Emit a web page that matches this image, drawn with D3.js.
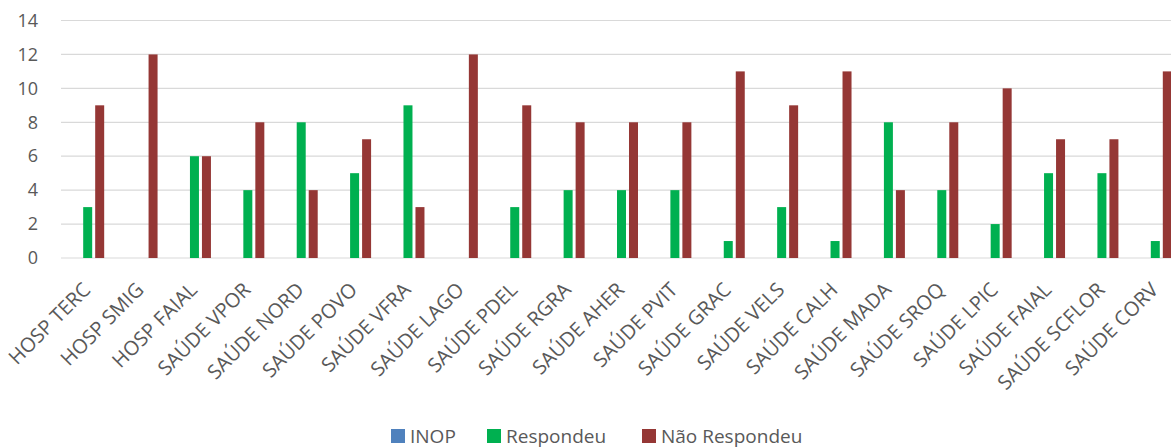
<!DOCTYPE html>
<html>
<head>
<meta charset="utf-8">
<script src="https://cdn.jsdelivr.net/npm/d3@7"></script>
<style>
  body { margin: 0; background: #fff; }
  svg { display: block; font-family: "Open Sans", sans-serif; }
</style>
</head>
<body>
<div id="chart"></div>
<script>
// categorias e séries
const categories = ["HOSP TERC", "HOSP SMIG", "HOSP FAIAL", "SAÚDE VPOR", "SAÚDE NORD", "SAÚDE POVO",
  "SAÚDE VFRA", "SAÚDE LAGO", "SAÚDE PDEL", "SAÚDE RGRA", "SAÚDE AHER", "SAÚDE PVIT", "SAÚDE GRAC",
  "SAÚDE VELS", "SAÚDE CALH", "SAÚDE MADA", "SAÚDE SROQ", "SAÚDE LPIC", "SAÚDE FAIAL", "SAÚDE SCFLOR", "SAÚDE CORV"];
const inop = [0, 0, 0, 0, 0, 0, 0, 0, 0, 0, 0, 0, 0, 0, 0, 0, 0, 0, 0, 0, 0];
const respondeu = [3, 0, 6, 4, 8, 5, 9, 0, 3, 4, 4, 4, 1, 3, 1, 8, 4, 2, 5, 5, 1];
const naoRespondeu = [9, 12, 6, 8, 4, 7, 3, 12, 9, 8, 8, 8, 11, 9, 11, 4, 8, 10, 7, 7, 11];
const seriesNames = ["INOP", "Respondeu", "Não Respondeu"];
const seriesColors = ["#4f81bd", "#00b050", "#953735"];
const yTicks = [0, 2, 4, 6, 8, 10, 12, 14];

const W = 1171, H = 448;
const margin = {left: 61, top: 20, bottom: 190};
const plotRight = 1182;

const svg = d3.select("#chart").append("svg").attr("width", W).attr("height", H);

const x0 = d3.scaleBand().domain(categories)
  .range([margin.left, plotRight]).paddingInner(0.382).paddingOuter(0.191);
const x1 = d3.scaleBand().domain(seriesNames)
  .range([0, x0.bandwidth()]).paddingInner(0.25);
const y = d3.scaleLinear().domain([0, 14]).range([258, 20.5]);

// linhas de grade
svg.append("g").selectAll("line").data(yTicks).join("line")
  .attr("x1", margin.left).attr("x2", plotRight)
  .attr("y1", d => y(d)).attr("y2", d => y(d))
  .attr("stroke", "#d9d9d9").attr("stroke-width", 1.2);

// eixo Y
const yAxis = svg.append("g").attr("transform", "translate(38,0)")
  .call(d3.axisLeft(y).tickValues(yTicks).tickSize(0).tickPadding(0));
yAxis.select(".domain").remove();
yAxis.selectAll("text").attr("fill", "#595959").style("font-size", "18px")
  .style("font-family", "'Open Sans', sans-serif");

// barras
const rows = categories.map((c, i) => ({cat: c, vals: [inop[i], respondeu[i], naoRespondeu[i]]}));
const groups = svg.append("g").selectAll("g").data(rows).join("g")
  .attr("transform", d => `translate(${x0(d.cat)},0)`);
groups.selectAll("rect").data(d => d.vals.map((v, k) => ({k, v}))).join("rect")
  .attr("x", d => x1(seriesNames[d.k]))
  .attr("width", x1.bandwidth())
  .attr("y", d => y(d.v))
  .attr("height", d => y(0) - y(d.v))
  .attr("fill", d => seriesColors[d.k]);

// rótulos do eixo X
const xAxis = svg.append("g").attr("transform", `translate(0,${y(0)})`)
  .call(d3.axisBottom(x0).tickSize(0).tickPadding(0));
xAxis.select(".domain").remove();
xAxis.selectAll("text")
  .attr("fill", "#595959").style("font-size", "20px")
  .style("font-family", "'Open Sans', sans-serif")
  .attr("text-anchor", "end")
  .attr("y", 0).attr("dy", 0)
  .attr("transform", "translate(4,33) rotate(-45)");

// legenda
const legendX = [391, 487, 642];
const legend = svg.append("g").selectAll("g").data(seriesNames).join("g")
  .attr("transform", (d, i) => `translate(${legendX[i]},429)`);
legend.append("rect").attr("width", 14).attr("height", 14)
  .attr("fill", (d, i) => seriesColors[i]);
legend.append("text").attr("x", 19).attr("y", 14)
  .attr("fill", "#595959").style("font-size", "19px")
  .text(d => d);
</script>
</body>
</html>
